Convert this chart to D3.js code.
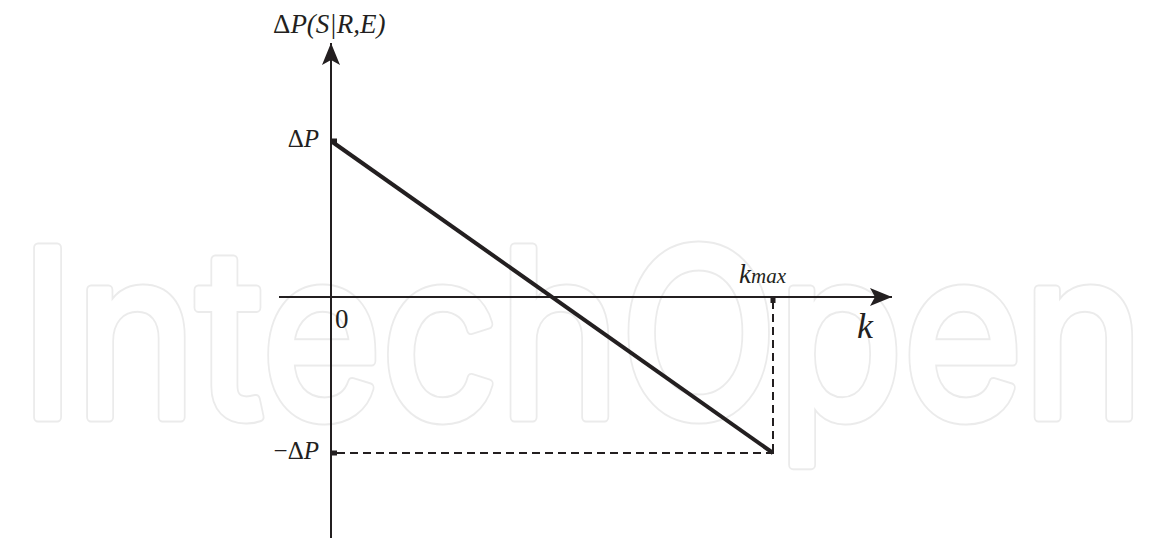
<!DOCTYPE html>
<html lang="en">
<head>
  <meta charset="UTF-8">
  <script src="https://cdn.jsdelivr.net/npm/d3@7"></script>
  <title>Delta P vs k</title>
  <style>
    body { margin: 0; background: #fff; }
  </style>
</head>
<body>
  <script>
    // k goes from 0 to kmax, the curve from +dP down to -dP
    const kValues = [0, 1]
    const pValues = [1, -1]
    const yTicks = [
      { value: 1, label: 'ΔP' },
      { value: -1, label: '−ΔP' },
    ]
    const xTickLabel = 'kmax'
    const originLabel = '0'

    const width = 1150, height = 538
    const serif = '"Liberation Serif", "Times New Roman", serif'

    const x = d3.scaleLinear()
            .domain([0, 1])
            .range([331, 773])
    const y = d3.scaleLinear()
            .domain([-1, 1])
            .range([453, 141])

    const svg = d3.select('body').append('svg')
        .attr('width', width)
        .attr('height', height)

    // watermark: a wide grey stroke under a slightly thinner white one leaves an outline
    const mark = svg.append('g')
        .attr('font-family', 'Inter, "Open Sans", sans-serif')
        .attr('font-size', 232)
    ;[['#ebebeb', 11], ['#fff', 7]].forEach(([c, w]) => {
      mark.append('text')
          .attr('x', 20)
          .attr('y', 417)
          .attr('textLength', 1124)
          .attr('lengthAdjust', 'spacingAndGlyphs')
          .attr('fill', c === '#fff' ? '#fff' : 'none')
          .attr('stroke', c)
          .attr('stroke-width', w)
          .attr('stroke-linejoin', 'round')
          .text('IntechOpen')
    })

    const defs = svg.append('defs')
    defs.append('marker')
        .attr('id', 'arrow')
        .attr('viewBox', '0 0 22 18')
        .attr('refX', 22)
        .attr('refY', 9)
        .attr('markerWidth', 22)
        .attr('markerHeight', 18)
        .attr('markerUnits', 'userSpaceOnUse')
        .attr('orient', 'auto')
      .append('path')
        .attr('d', 'M0,0 L22,9 L0,18 L5,9 Z')
        .attr('fill', '#231f20')

    // axes
    svg.append('line')
        .attr('x1', 279).attr('x2', 892)
        .attr('y1', y(0)).attr('y2', y(0))
        .attr('stroke', '#231f20')
        .attr('stroke-width', 2)
        .attr('marker-end', 'url(#arrow)')
    svg.append('line')
        .attr('x1', x(0)).attr('x2', x(0))
        .attr('y1', height).attr('y2', 43)
        .attr('stroke', '#231f20')
        .attr('stroke-width', 2)
        .attr('marker-end', 'url(#arrow)')

    // dashed guides to the end point
    const kEnd = kValues[kValues.length - 1]
    const pEnd = pValues[pValues.length - 1]
    svg.append('line')
        .attr('x1', x(kEnd)).attr('x2', x(kEnd))
        .attr('y1', y(0) + 4).attr('y2', y(pEnd))
        .attr('stroke', '#231f20')
        .attr('stroke-width', 2)
        .attr('stroke-dasharray', '8,5')
    svg.append('line')
        .attr('x1', x(0) + 6).attr('x2', x(kEnd) + 6)
        .attr('y1', y(pEnd)).attr('y2', y(pEnd))
        .attr('stroke', '#231f20')
        .attr('stroke-width', 2)
        .attr('stroke-dasharray', '8,5')

    // small tick blocks
    svg.selectAll('rect.ytick')
      .data(yTicks)
      .enter()
      .append('rect')
        .attr('class', 'ytick')
        .attr('x', x(0))
        .attr('y', d => y(d.value) - 2.5)
        .attr('width', 6)
        .attr('height', 5)
        .attr('fill', '#231f20')
    svg.append('rect')
        .attr('x', x(kEnd) - 2.5)
        .attr('y', y(0))
        .attr('width', 5)
        .attr('height', 6)
        .attr('fill', '#231f20')

    // main line
    const data = kValues.map((k, i) => ({ k: k, p: pValues[i] }))
    const line = d3.line()
                   .x(d => x(d.k))
                   .y(d => y(d.p))
    svg.append('path')
        .datum(data)
        .attr('fill', 'none')
        .attr('stroke', '#231f20')
        .attr('stroke-width', 4)
        .attr('d', line)

    // labels
    svg.selectAll('text.ylab')
      .data(yTicks)
      .enter()
      .append('text')
        .attr('class', 'ylab')
        .attr('x', 319)
        .attr('y', d => y(d.value) + 6)
        .attr('text-anchor', 'end')
        .attr('font-family', serif)
        .attr('font-size', 25)
        .attr('fill', '#231f20')
        .each(function (d) {
          const t = d3.select(this)
          const m = d.label.match(/^(.*?)(P)$/)
          t.append('tspan').text(m[1])
          t.append('tspan').attr('font-style', 'italic').text(m[2])
        })

    svg.append('text')
        .attr('x', 335)
        .attr('y', 328)
        .attr('font-family', serif)
        .attr('font-size', 27)
        .attr('fill', '#231f20')
        .text(originLabel)

    const kmax = svg.append('text')
        .attr('x', 739)
        .attr('y', 283)
        .attr('font-family', serif)
        .attr('font-style', 'italic')
        .attr('fill', '#231f20')
    kmax.append('tspan').attr('font-size', 27).text(xTickLabel.slice(0, 1))
    kmax.append('tspan').attr('font-size', 21).text(xTickLabel.slice(1))

    svg.append('text')
        .attr('x', 857)
        .attr('y', 338)
        .attr('font-family', serif)
        .attr('font-style', 'italic')
        .attr('font-size', 36)
        .attr('fill', '#231f20')
        .text('k')

    const title = svg.append('text')
        .attr('x', 273)
        .attr('y', 33)
        .attr('font-family', serif)
        .attr('font-size', 27)
        .attr('fill', '#231f20')
    title.append('tspan').text('Δ')
    title.append('tspan').attr('font-style', 'italic').text('P(S|R,E)')
  </script>
</body>
</html>
